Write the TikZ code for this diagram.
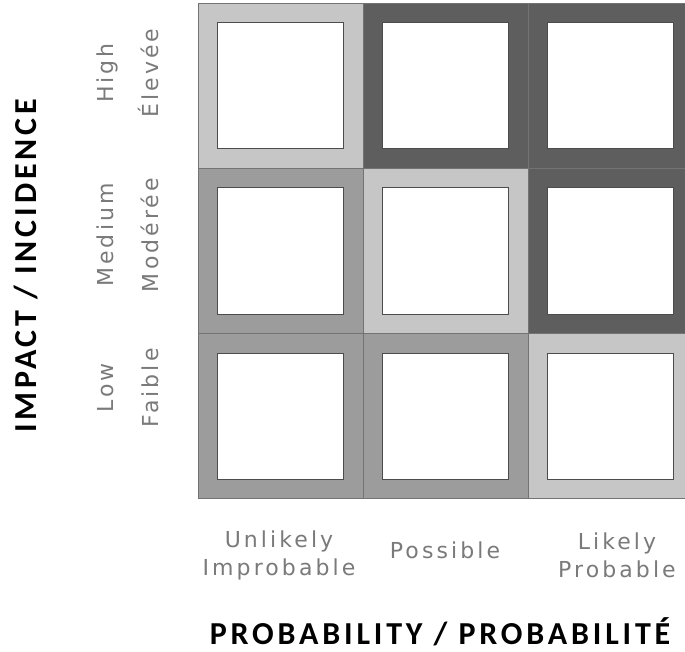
\documentclass[tikz,border=0pt]{standalone}
\usepackage{fontspec}
\newfontfamily\titlefont[LetterSpace=12]{Carlito}
\newfontfamily\labelfont[LetterSpace=14]{DejaVu Sans}
\definecolor{lite}{HTML}{C6C6C6}
\definecolor{mid}{HTML}{9C9C9C}
\definecolor{dark}{HTML}{5E5E5E}
\definecolor{labelgray}{HTML}{7A7A7A}
\begin{document}
\begin{tikzpicture}[x=1pt,y=-1pt,
    cellbox/.style={draw=black!55, line width=1pt, fill=#1, minimum size=165pt, inner sep=0pt, outer sep=0pt},
    hole/.style={draw=black!70, line width=1pt, fill=white, minimum size=126pt, inner sep=0pt},
    lbl/.style={text=labelgray, align=center, font=\labelfont\fontsize{22}{28}\selectfont},
    rowlbl/.style={lbl, rotate=90, font=\labelfont\fontsize{22}{45}\selectfont},
    heading/.style={font=\titlefont\bfseries\fontsize{32}{38}\selectfont}]
        \clip (0,0) rectangle (685,652);
        \fill [white] (0,0) rectangle (685,652);
        % risk grid, rows from the top
        \foreach \r/\y/\cols in {1/86/{lite,dark,dark}, 2/251/{mid,lite,dark}, 3/416/{mid,mid,lite}} {
            \foreach \c [count=\i] in \cols {
                \node [cellbox=\c] (cell-\r-\i) at (115.5+165*\i,\y) {};
                \node [hole] (hole-\r-\i) at (cell-\r-\i) {};
            }
        }
        \node [rowlbl] (high) at (128,73) {High\\Élevée};
        \node [rowlbl] (medium) at (128,235) {Medium\\Modérée};
        \node [rowlbl] (low) at (128,388) {Low\\Faible};
        \node [lbl] (unlikely) at (279,555) {Unlikely\\Improbable};
        \node [lbl, anchor=base] (possible) at (445,558) {Possible};
        \node [lbl] (likely) at (617,555) {Likely\\Probable};
        \node [heading, rotate=90] (impact) at (26,266) {IMPACT / INCIDENCE};
        \node [heading, anchor=base] (probability) at (440,644) {PROBABILITY / PROBABILITÉ};
    \end{tikzpicture}
\end{document}
